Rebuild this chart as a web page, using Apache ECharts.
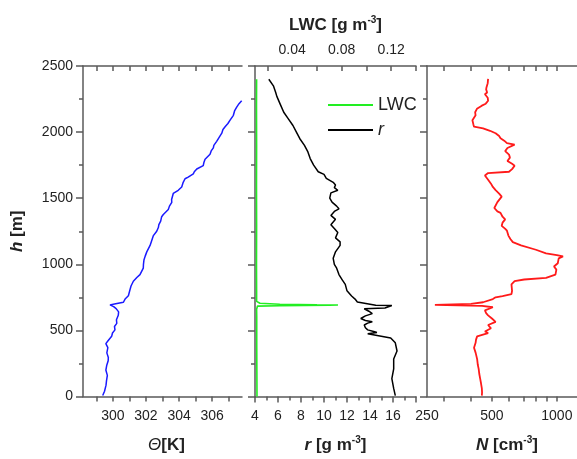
<!DOCTYPE html>
<html>
<head>
<meta charset="utf-8">
<script src="https://cdn.jsdelivr.net/npm/echarts@6/dist/echarts.min.js"></script>
<style>html,body{margin:0;padding:0;background:#fff}#c{width:577px;height:459px}</style>
</head>
<body>
<div id="c"></div>
<script>
// ---- Panel 1: potential temperature ----
const thetaH = [7,40,86,120,160,200,234,270,295,330,370,400,420,455,480,504,530,553,580,614,640,651,665,680,693,700,713,737,762,800,836,872,900,922,971,1000,1032,1060,1094,1143,1180,1217,1250,1278,1300,1327,1360,1377,1414,1440,1468,1490,1536,1560,1585,1620,1647,1660,1684,1700,1721,1746,1770,1795,1832,1860,1881,1900,1930,1960,1992,2020,2041,2065,2090,2127,2160,2189,2215,2237];
const thetaVal = [299.39,299.50,299.59,299.62,299.67,299.58,299.63,299.72,299.73,299.64,299.70,299.58,299.70,299.93,299.98,300.13,300.10,300.24,300.22,300.33,300.35,300.45,300.20,300.05,299.83,300.10,300.64,300.74,300.94,301.02,301.10,301.24,301.45,301.64,301.84,301.85,301.88,301.95,302.05,302.25,302.35,302.45,302.65,302.75,302.78,302.89,302.95,303.05,303.35,303.42,303.56,303.55,303.65,303.95,304.16,304.25,304.36,304.55,304.86,304.92,305.07,305.46,305.50,305.57,305.87,305.95,306.07,306.10,306.27,306.42,306.58,306.65,306.78,306.95,307.08,307.28,307.35,307.48,307.62,307.78];

// ---- Panel 2: mixing ratio r and LWC ----
const rH = [2400,2350,2300,2270,2210,2150,2100,2050,2000,1950,1900,1850,1800,1750,1700,1680,1650,1620,1600,1580,1560,1540,1500,1470,1440,1420,1400,1370,1340,1300,1270,1240,1200,1170,1143,1094,1045,1000,971,922,880,848,799,760,737,715,700,690,688,680,670,664,645,627,610,590,575,565,555,541,520,504,490,484,475,467,443,406,344,283,209,135,61,7];
const rVal = [5.2,5.6,5.8,5.9,6.2,6.5,6.9,7.3,7.6,7.9,8.3,8.6,8.8,9.1,9.5,10.0,10.2,10.8,11.0,10.9,11.2,10.6,10.5,10.7,11.1,11.3,10.9,10.6,11.0,10.6,10.9,11.2,11.0,11.4,11.4,11.0,10.8,10.9,11.1,11.3,11.6,11.85,12.0,12.4,12.7,12.9,13.0,14.5,15.9,15.8,15.3,13.5,13.9,14.2,13.6,13.2,13.6,14.2,13.8,13.5,13.6,13.8,14.4,14.6,13.8,13.8,15.8,16.2,16.35,16.06,16.06,15.9,16.06,16.2];
const lwcH = [2400,2200,1900,1600,1300,1000,800,720,705,698,694,692,690,687,684,680,675,660,600,400,200,0];
const lwcVal = [0.0113,0.0112,0.0113,0.0112,0.0113,0.0112,0.0113,0.0113,0.014,0.03,0.06,0.077,0.07,0.03,0.012,0.0105,0.0115,0.0113,0.0114,0.0114,0.0115,0.0116];

// ---- Panel 3: number concentration N ----
const nH = [2402,2370,2340,2323,2300,2286,2260,2237,2215,2200,2176,2150,2127,2090,2060,2041,2028,2010,1991,1970,1954,1935,1917,1905,1880,1856,1830,1807,1782,1760,1746,1720,1700,1690,1672,1640,1610,1585,1561,1535,1512,1470,1426,1400,1389,1360,1340,1315,1291,1270,1254,1217,1190,1168,1143,1110,1082,1069,1060,1045,1032,1008,983,960,946,922,897,885,872,848,800,774,760,750,737,713,700,693,690,685,675,664,651,630,614,590,565,541,516,492,480,455,430,406,369,332,283,240,209,170,135,100,61,30,7];
const nVal = [480,478,472,470,475,464,478,480,468,449,426,418,420,406,410,413,455,490,520,540,548,570,587,637,590,576,600,606,590,620,637,620,600,480,464,480,495,505,520,540,555,530,513,530,548,560,576,560,555,575,587,596,610,625,682,800,891,1000,1068,1020,999,1010,970,995,1000,985,891,706,637,616,620,616,560,520,505,455,400,272,350,450,505,505,464,470,480,500,520,480,495,464,480,427,422,420,413,420,427,430,434,437,441,445,449,450,449];

// ---- ticks / labels ----
const hTickLabels = [0,500,1000,1500,2000,2500];
const thetaLabels = [300,302,304,306];
const thetaTicks = [299,300,301,302,303,304,305,306,307];
const rLabels = [4,6,8,10,12,14,16];
const lwcLabels = [0.04,0.08,0.12];
const lwcTicks = [0.02,0.04,0.06,0.08,0.10,0.12,0.14];
const nLabels = [250,500,1000];
const nTicks = [300,400,500,600,700,800,900,1000];

const FF = "'Liberation Sans', Arial, sans-serif";
const AX = '#5a5a5a';
const TXT = '#222';
const lineSt = {color: AX, width: 1.5};
const plain = v => String(v);
const labelSt = {color: TXT, fontSize: 14, fontFamily: FF, formatter: plain};
const nameRich = {
  b: {fontSize: 17, fontWeight: 'bold', fontFamily: FF, color: TXT, lineHeight: 20},
  bi: {fontSize: 17, fontWeight: 'bold', fontStyle: 'italic', fontFamily: FF, color: TXT, lineHeight: 20},
  it: {fontSize: 17, fontStyle: 'italic', fontFamily: FF, color: TXT, lineHeight: 20},
  sup: {fontSize: 10, fontWeight: 'bold', fontFamily: FF, color: TXT, verticalAlign: 'top', lineHeight: 12}
};

function xAx(o) {
  return Object.assign({
    type: 'value', splitLine: {show: false},
    axisLine: {show: true, onZero: false, lineStyle: lineSt},
    axisTick: {show: true, length: 5, lineStyle: lineSt},
    axisLabel: Object.assign({margin: 13}, labelSt),
    nameLocation: 'middle', nameTextStyle: {rich: nameRich}
  }, o);
}
function yAx(o) {
  return Object.assign({
    type: 'value', min: 0, max: 2500, interval: 500, splitLine: {show: false},
    axisLine: {show: true, onZero: false, lineStyle: lineSt},
    axisTick: {show: true, length: 7, lineStyle: lineSt},
    minorTick: {show: true, splitNumber: 2, length: 4, lineStyle: lineSt},
    axisLabel: {show: false},
    position: 'left'
  }, o);
}

const chart = echarts.init(document.getElementById('c'), null, {renderer: 'canvas'});
chart.setOption({
  animation: false,
  backgroundColor: '#fff',
  grid: [
    {left: 83, width: 159, top: 66, height: 339},
    {left: 255, width: 161, top: 66, height: 339},
    {left: 427, width: 160, top: 66, height: 339}
  ],
  legend: {
    left: 323, top: 90, orient: 'vertical', icon: 'rect', itemWidth: 45, itemHeight: 2, itemGap: 5,
    data: ['LWC', 'r'],
    formatter: n => n === 'r' ? '{i|r}' : n,
    textStyle: {fontSize: 18, fontFamily: FF, color: TXT, lineHeight: 20,
      rich: {i: {fontSize: 18, fontStyle: 'italic', fontFamily: FF, color: TXT, lineHeight: 20}}}
  },
  xAxis: [
    xAx({gridIndex: 0, position: 'bottom', min: 298.2, max: 307.8,
      axisTick: {show: true, length: 5, lineStyle: lineSt, customValues: thetaTicks},
      axisLabel: Object.assign({margin: 13, customValues: thetaLabels}, labelSt),
      name: '{it|Θ}{b|[K]}', nameGap: 39, nameTextStyle: {rich: nameRich, padding: [0, 0, 0, 8]}}),
    xAx({gridIndex: 0, position: 'top', min: 298.2, max: 307.8,
      axisTick: {show: true, inside: true, length: 5, lineStyle: lineSt, customValues: thetaTicks},
      axisLabel: {show: false}}),
    xAx({gridIndex: 1, position: 'bottom', min: 4, max: 18, interval: 2,
      minorTick: {show: true, splitNumber: 2, length: 4, lineStyle: lineSt},
      axisTick: {show: true, length: 6, lineStyle: lineSt},
      axisLabel: Object.assign({margin: 13, customValues: rLabels}, labelSt),
      name: '{bi|r}{b| [g m}{sup|-3}{b|]}', nameGap: 39}),
    xAx({gridIndex: 1, position: 'top', min: 0.01, max: 0.14,
      axisTick: {show: true, inside: true, length: 5, lineStyle: lineSt, customValues: lwcTicks},
      axisLabel: Object.assign({margin: 9, customValues: lwcLabels}, labelSt),
      name: '{b|LWC [g m}{sup|-3}{b|]}', nameGap: 31}),
    xAx({gridIndex: 2, type: 'log', position: 'bottom', min: 250, max: 1240,
      axisTick: {show: true, length: 5, lineStyle: lineSt, customValues: nTicks},
      axisLabel: Object.assign({margin: 13, customValues: nLabels}, labelSt),
      name: '{bi|N}{b| [cm}{sup|-3}{b|]}', nameGap: 39, nameTextStyle: {rich: nameRich, padding: [0, 0, 0, 10]}}),
    xAx({gridIndex: 2, type: 'log', position: 'top', min: 250, max: 1240,
      axisTick: {show: true, inside: true, length: 5, lineStyle: lineSt, customValues: nTicks},
      axisLabel: {show: false}})
  ],
  yAxis: [
    yAx({gridIndex: 0,
      axisLabel: Object.assign({show: true, margin: 10, customValues: hTickLabels}, labelSt),
      name: '{bi|h}{b| [m]}', nameLocation: 'middle', nameGap: 56, nameTextStyle: {rich: nameRich}}),
    yAx({gridIndex: 1}),
    yAx({gridIndex: 2})
  ],
  series: [
    {name: 'Θ', type: 'line', xAxisIndex: 0, yAxisIndex: 0, symbol: 'none', clip: true,
      lineStyle: {color: '#1a1aff', width: 1.5},
      data: thetaVal.map((v, i) => [v, thetaH[i]])},
    {name: 'LWC', type: 'line', xAxisIndex: 3, yAxisIndex: 1, symbol: 'none', clip: true,
      color: '#22ee22', lineStyle: {color: '#22ee22', width: 1.6},
      data: lwcVal.map((v, i) => [v, lwcH[i]])},
    {name: 'r', type: 'line', xAxisIndex: 2, yAxisIndex: 1, symbol: 'none', clip: true,
      color: '#000', lineStyle: {color: '#000', width: 1.5},
      data: rVal.map((v, i) => [v, rH[i]])},
    {name: 'N', type: 'line', xAxisIndex: 4, yAxisIndex: 2, symbol: 'none', clip: true,
      lineStyle: {color: '#ff1a1a', width: 1.8},
      data: nVal.map((v, i) => [v, nH[i]])}
  ]
});
</script>
</body>
</html>
